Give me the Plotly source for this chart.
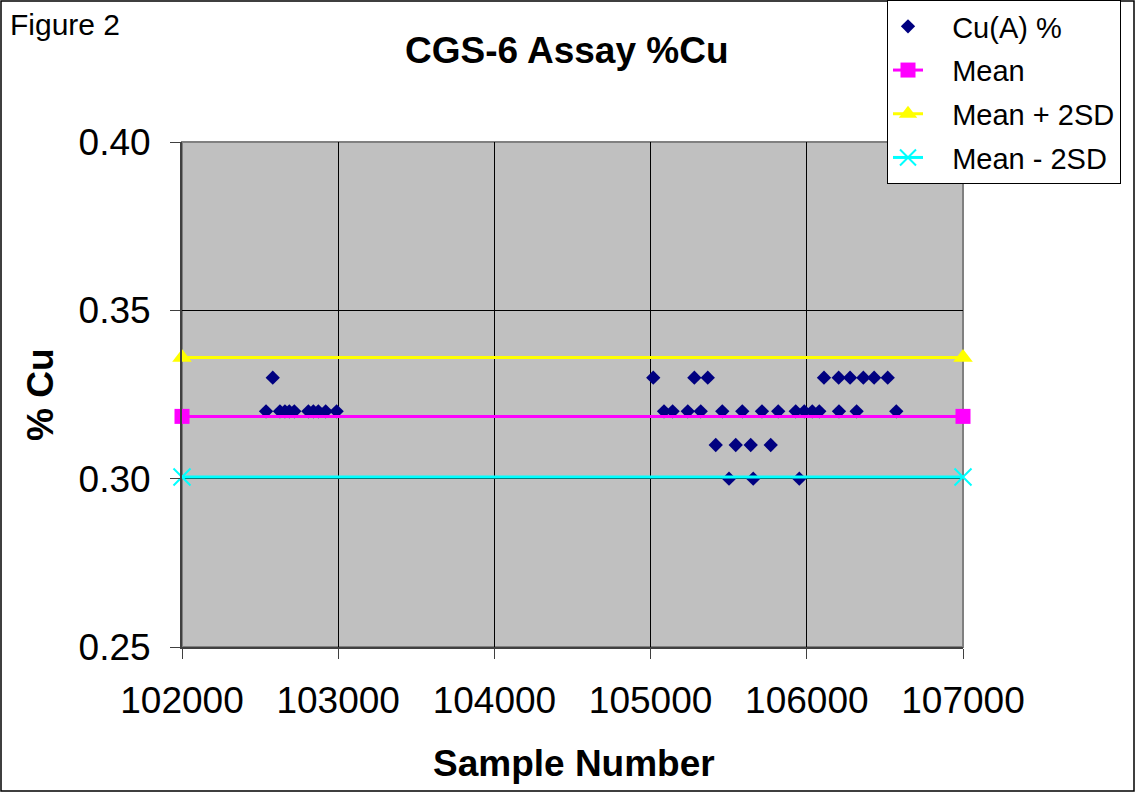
import plotly.graph_objects as go

# Assay data
x_033 = [102581, 105017, 105280, 105366, 106110, 106204, 106277, 106362, 106431, 106518]
x_032 = [102538, 102627, 102659, 102687, 102719, 102809, 102841, 102873, 102920, 102990,
         105086, 105141, 105238, 105321, 105459, 105587, 105713, 105817, 105929, 105984,
         106035, 106080, 106206, 106319, 106573]
x_031 = [105417, 105545, 105641, 105769]
x_030 = [105502, 105657, 105952]

sample_x = x_033 + x_032 + x_031 + x_030
cu_pct = [0.33] * len(x_033) + [0.32] * len(x_032) + [0.31] * len(x_031) + [0.30] * len(x_030)

line_x = [102000, 107000]
mean_val = 0.3185
mean_plus = 0.3360
mean_minus = 0.3005

x_ticks = [102000, 103000, 104000, 105000, 106000, 107000]
y_ticks = [0.25, 0.30, 0.35, 0.40]

FONT = "Liberation Sans, Arial, sans-serif"
PAD = "\u00a0\u00a0\u00a0"

fig = go.Figure()
fig.add_trace(go.Scatter(x=sample_x, y=cu_pct, mode="markers", name=PAD + "Cu(A) %",
                         legendgroup="a",
                         marker=dict(symbol="diamond", size=11, color="#000080")))
fig.add_trace(go.Scatter(x=line_x, y=[mean_val] * 2, mode="lines+markers", name=PAD + "Mean",
                         legendgroup="b", cliponaxis=False,
                         line=dict(color="#FF00FF", width=3),
                         marker=dict(symbol="square", size=15, color="#FF00FF")))
fig.add_trace(go.Scatter(x=line_x, y=[mean_plus] * 2, mode="lines+markers", name=PAD + "Mean + 2SD",
                         legendgroup="c", cliponaxis=False,
                         line=dict(color="#FFFF00", width=3),
                         marker=dict(symbol="triangle-up", size=17, color="#FFFF00")))
fig.add_trace(go.Scatter(x=line_x, y=[mean_minus] * 2, mode="lines+markers", name=PAD + "Mean - 2SD",
                         legendgroup="d", cliponaxis=False,
                         line=dict(color="#00FFFF", width=3),
                         marker=dict(symbol="x-thin", size=17, color="#00FFFF",
                                     line=dict(color="#00FFFF", width=2))))

W, H = 1135, 792
L, R, T, B = 182, 1135 - 963, 142, 792 - 647
pw, ph = W - L - R, H - T - B

def px_x(p):
    return (p - L) / pw

def px_y(p):
    return 1 - (p - T) / ph

fig.update_layout(
    width=W, height=H,
    margin=dict(l=L, r=R, t=T, b=B, autoexpand=False),
    paper_bgcolor="white",
    plot_bgcolor="#C0C0C0",
    font=dict(family=FONT, color="black"),
    showlegend=True,
    legend=dict(x=px_x(887), y=px_y(0), xanchor="left", yanchor="top",
                bgcolor="white", bordercolor="black", borderwidth=1,
                tracegroupgap=3,
                font=dict(size=29, family=FONT)),
    xaxis=dict(range=[102000, 107000], tickvals=x_ticks, ticktext=[str(v) for v in x_ticks],
               showgrid=True, gridcolor="black", gridwidth=1, zeroline=False,
               showline=True, linecolor="#404040", linewidth=2, mirror=False,
               ticks="outside", ticklen=10, tickcolor="#404040",
               tickfont=dict(size=37, family=FONT), ticklabelstandoff=10),
    yaxis=dict(range=[0.25, 0.40], tickvals=y_ticks, ticktext=["%.2f" % v for v in y_ticks],
               showgrid=True, gridcolor="black", gridwidth=1, zeroline=False,
               showline=True, linecolor="#404040", linewidth=2,
               ticks="outside", ticklen=10, tickcolor="#404040",
               tickfont=dict(size=37, family=FONT), ticklabelstandoff=12),
)

# plot-area gray border
fig.add_shape(type="rect", xref="paper", yref="paper", x0=0, y0=0, x1=1, y1=1,
              line=dict(color="#808080", width=2), layer="below")
# outer figure border
fig.add_shape(type="rect", xref="paper", yref="paper",
              x0=px_x(1), x1=px_x(W - 1), y0=px_y(H - 1), y1=px_y(1),
              line=dict(color="black", width=1.5))

fig.add_annotation(text="<b>CGS-6 Assay %Cu</b>", xref="paper", yref="paper",
                   x=px_x(567), y=px_y(50), showarrow=False,
                   font=dict(size=37, family=FONT), xanchor="center", yanchor="middle")
fig.add_annotation(text="Figure 2", xref="paper", yref="paper",
                   x=px_x(8), y=px_y(24), showarrow=False,
                   font=dict(size=30, family=FONT), xanchor="left", yanchor="middle")
fig.add_annotation(text="<b>Sample Number</b>", xref="paper", yref="paper",
                   x=px_x(574), y=px_y(763), showarrow=False,
                   font=dict(size=37, family=FONT), xanchor="center", yanchor="middle")
fig.add_annotation(text="<b>% Cu</b>", xref="paper", yref="paper",
                   x=px_x(40), y=px_y(395), showarrow=False, textangle=-90,
                   font=dict(size=37, family=FONT), xanchor="center", yanchor="middle")

fig.write_html("out.html")
